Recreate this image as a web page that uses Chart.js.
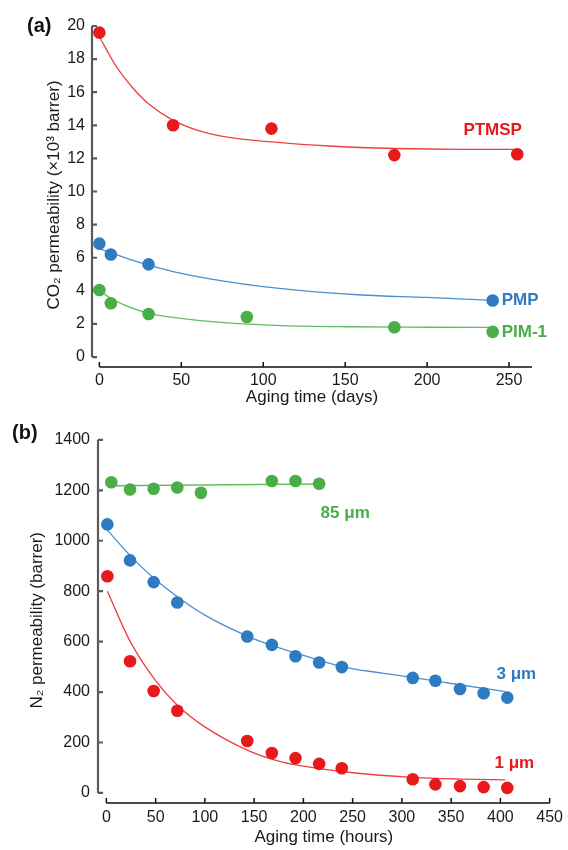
<!DOCTYPE html>
<html>
<head>
<meta charset="utf-8">
<script src="https://cdn.jsdelivr.net/npm/chart.js@4.4.1/dist/chart.umd.min.js"></script>
<style>
  html, body { margin: 0; padding: 0; background: #fff; }
  #wrap { position: relative; width: 568px; height: 850px; overflow: hidden; font-family: "Liberation Sans", Arial, sans-serif; }
  .box { position: absolute; left: 0; width: 568px; }
  #boxA { top: 0; height: 420px; }
  #boxB { top: 420px; height: 430px; }
  .tag { position: absolute; font-weight: bold; font-size: 20px; color: #111; line-height: 23px; }
</style>
</head>
<body>
<div id="wrap">
  <div class="box" id="boxA"><canvas id="chartA"></canvas></div>
  <div class="box" id="boxB"><canvas id="chartB"></canvas></div>
  <div class="tag" style="left:27px;top:14px">(a)</div>
  <div class="tag" style="left:12px;top:421px">(b)</div>
</div>
<script>
// ---- (a) CO2 permeability vs aging time (days) ----
const ptmspDays = [0, 45, 105, 180, 255];
const ptmspCO2 = [19.6, 14.0, 13.8, 12.2, 12.25];
const pmpDays = [0, 7, 30, 240];
const pmpCO2 = [6.85, 6.2, 5.6, 3.42];
const pim1Days = [0, 7, 30, 90, 180, 240];
const pim1CO2 = [4.05, 3.25, 2.6, 2.42, 1.8, 1.52];

// fitted curves
const ptmspFitDays = [0, 10, 20, 30, 45, 60, 80, 105, 140, 180, 220, 255];
const ptmspFit = [19.35, 17.6, 16.3, 15.3, 14.3, 13.7, 13.25, 13.0, 12.75, 12.6, 12.55, 12.55];
const pmpFitDays = [0, 10, 20, 30, 50, 75, 100, 130, 160, 200, 240];
const pmpFit = [6.55, 6.2, 5.85, 5.55, 5.05, 4.6, 4.25, 3.95, 3.75, 3.6, 3.42];
const pim1FitDays = [0, 7, 15, 30, 45, 60, 80, 112, 150, 200, 240];
const pim1Fit = [4.0, 3.55, 3.15, 2.64, 2.4, 2.22, 2.05, 1.9, 1.83, 1.8, 1.79];

const xTicksA = [0, 50, 100, 150, 200, 250];
const yTicksA = [0, 2, 4, 6, 8, 10, 12, 14, 16, 18, 20];

// ---- (b) N2 permeability vs aging time (hours) ----
const hours85 = [5, 24, 48, 72, 96, 168, 192, 216];
const n2_85 = [1232, 1203, 1206, 1211, 1190, 1237, 1237, 1226];
const hours3 = [1, 24, 48, 72, 143, 168, 192, 216, 239, 311, 334, 359, 383, 407];
const n2_3 = [1065, 922, 836, 755, 620, 587, 542, 517, 499, 456, 445, 412, 395, 378];
const hours1 = [1, 24, 48, 72, 143, 168, 192, 216, 239, 311, 334, 359, 383, 407];
const n2_1 = [859, 522, 404, 326, 206, 158, 138, 115, 98, 54, 34, 27, 23, 20];

const fit85Hours = [5, 216];
const fit85 = [1218, 1225];
const fit3Hours = [1, 24, 48, 72, 100, 143, 168, 200, 240, 280, 310, 360, 405];
const fit3 = [1042, 942, 852, 778, 705, 622, 585, 545, 500, 475, 458, 428, 402];
const fit1Hours = [1, 24, 50, 72, 100, 143, 175, 200, 250, 310, 360, 405];
const fit1 = [800, 602, 445, 348, 262, 170, 126, 106, 80, 62, 55, 52];

const xTicksB = [0, 50, 100, 150, 200, 250, 300, 350, 400, 450];
const yTicksB = [0, 200, 400, 600, 800, 1000, 1200, 1400];

const RED = "#e8191c", RED_L = "#ef4040";
const BLUE = "#2f7bc2", BLUE_L = "#4a8fd2";
const GREEN = "#49ae47", GREEN_L = "#62bd5f";

Chart.defaults.font.family = '"Liberation Sans", Arial, sans-serif';
Chart.defaults.color = "#1a1a1a";

function pts(xs, ys) {
  return xs.map((x, i) => ({ x: x, y: ys[i] }));
}

function dots(xs, ys, color) {
  return { data: pts(xs, ys), backgroundColor: color, borderWidth: 0, pointRadius: 6.3, pointHoverRadius: 6.3, order: 0, clip: false };
}

function fit(xs, ys, color) {
  return {
    data: pts(xs, ys), showLine: true, borderColor: color, borderWidth: 1.3, pointRadius: 0,
    cubicInterpolationMode: "monotone", order: 1, clip: false,
  };
}

// axis lines with inward ticks, drawn from the scales
const frameAxes = {
  id: "frameAxes",
  beforeDatasetsDraw(chart, args, o) {
    const { ctx } = chart;
    const xs = chart.scales.x, ys = chart.scales.y;
    const xl = xs.left, yb = ys.bottom;
    ctx.save();
    // y axis
    ctx.strokeStyle = "#5a5a5a";
    ctx.lineWidth = 2.2;
    ctx.beginPath();
    ctx.moveTo(xl, ys.getPixelForValue(o.yTicks[0]));
    ctx.lineTo(xl, ys.getPixelForValue(o.yTicks[o.yTicks.length - 1]));
    o.yTicks.forEach((v) => {
      const p = ys.getPixelForValue(v);
      ctx.moveTo(xl, p);
      ctx.lineTo(xl + 5, p);
    });
    ctx.stroke();
    // x axis
    ctx.strokeStyle = "#111";
    ctx.lineWidth = 1.5;
    ctx.beginPath();
    ctx.moveTo(xs.getPixelForValue(o.xTicks[0]), yb);
    ctx.lineTo(xs.right, yb);
    o.xTicks.forEach((v) => {
      const p = xs.getPixelForValue(v);
      ctx.moveTo(p, yb);
      ctx.lineTo(p, yb - 5);
    });
    ctx.stroke();
    ctx.restore();
  },
};

const seriesLabels = {
  id: "seriesLabels",
  afterDatasetsDraw(chart, args, o) {
    const { ctx } = chart;
    ctx.save();
    ctx.font = "bold 17px 'Liberation Sans', Arial, sans-serif";
    ctx.textBaseline = "middle";
    o.items.forEach((it) => {
      ctx.fillStyle = it.color;
      ctx.textAlign = it.align || "left";
      ctx.fillText(it.text, chart.scales.x.getPixelForValue(it.x), chart.scales.y.getPixelForValue(it.y));
    });
    ctx.restore();
  },
};

function makeChart(id, cfg) {
  return new Chart(document.getElementById(id), {
    type: "scatter",
    data: { datasets: cfg.datasets },
    options: {
      responsive: true,
      maintainAspectRatio: false,
      animation: false,
      events: [],
      layout: { padding: { top: cfg.padTop, right: cfg.padRight, left: 0, bottom: 0 } },
      plugins: {
        legend: { display: false },
        tooltip: { enabled: false },
        frameAxes: { xTicks: cfg.xTicks, yTicks: cfg.yTicks },
        seriesLabels: { items: cfg.labels },
      },
      scales: {
        x: {
          type: "linear", min: cfg.xMin, max: cfg.xMax,
          grid: { display: false, drawTicks: false }, border: { display: false },
          afterBuildTicks: (s) => { s.ticks = cfg.xTicks.map((v) => ({ value: v })); },
          afterFit: (s) => { s.height = cfg.xHeight; },
          ticks: { font: { size: 16 }, padding: cfg.xTickPad, maxRotation: 0, autoSkip: false, color: "#1a1a1a", callback: (v) => String(v) },
          title: { display: true, text: cfg.xTitle, font: { size: 17 }, padding: { top: 0, bottom: cfg.xTitlePad }, color: "#1a1a1a" },
        },
        y: {
          type: "linear", min: cfg.yMin, max: cfg.yMax,
          grid: { display: false, drawTicks: false }, border: { display: false },
          afterBuildTicks: (s) => { s.ticks = cfg.yTicks.map((v) => ({ value: v })); },
          afterFit: (s) => { s.width = cfg.yWidth; },
          ticks: { font: { size: 16 }, padding: cfg.yTickPad, autoSkip: false, color: "#1a1a1a", callback: (v) => String(v) },
          title: { display: true, text: cfg.yTitle, font: { size: 17 }, padding: { top: cfg.yTitlePad, bottom: 0 }, color: "#1a1a1a" },
        },
      },
    },
    plugins: [frameAxes, seriesLabels],
  });
}

makeChart("chartA", {
  datasets: [
    fit(ptmspFitDays, ptmspFit, RED_L),
    fit(pmpFitDays, pmpFit, BLUE_L),
    fit(pim1FitDays, pim1Fit, GREEN_L),
    dots(ptmspDays, ptmspCO2, RED),
    dots(pmpDays, pmpCO2, BLUE),
    dots(pim1Days, pim1CO2, GREEN),
  ],
  xMin: -4.5, xMax: 264, yMin: -0.6, yMax: 20.18,
  xTicks: xTicksA, yTicks: yTicksA,
  padTop: 23, padRight: 36, xHeight: 53, yWidth: 92,
  xTickPad: 4, yTickPad: 7, xTitlePad: 12, yTitlePad: 44,
  xTitle: "Aging time (days)",
  yTitle: "CO\u2082 permeability (\u00d710\u00b3 barrer)",
  labels: [
    { text: "PTMSP", x: 240, y: 13.7, color: RED, align: "center" },
    { text: "PMP", x: 245.5, y: 3.44, color: BLUE },
    { text: "PIM-1", x: 245.5, y: 1.51, color: GREEN },
  ],
});

makeChart("chartB", {
  datasets: [
    fit(fit85Hours, fit85, GREEN_L),
    fit(fit3Hours, fit3, BLUE_L),
    fit(fit1Hours, fit1, RED_L),
    dots(hours85, n2_85, GREEN),
    dots(hours3, n2_3, BLUE),
    dots(hours1, n2_1, RED),
  ],
  xMin: -8.5, xMax: 450, yMin: -40, yMax: 1409,
  xTicks: xTicksB, yTicks: yTicksB,
  padTop: 12, padRight: 13, xHeight: 47, yWidth: 98,
  xTickPad: 5, yTickPad: 8, xTitlePad: 2, yTitlePad: 27,
  xTitle: "Aging time (hours)",
  yTitle: "N\u2082 permeability (barrer)",
  labels: [
    { text: "85 \u03bcm", x: 217.5, y: 1108, color: GREEN },
    { text: "3 \u03bcm", x: 396, y: 469, color: BLUE },
    { text: "1 \u03bcm", x: 394, y: 117, color: RED },
  ],
});
</script>
</body>
</html>
